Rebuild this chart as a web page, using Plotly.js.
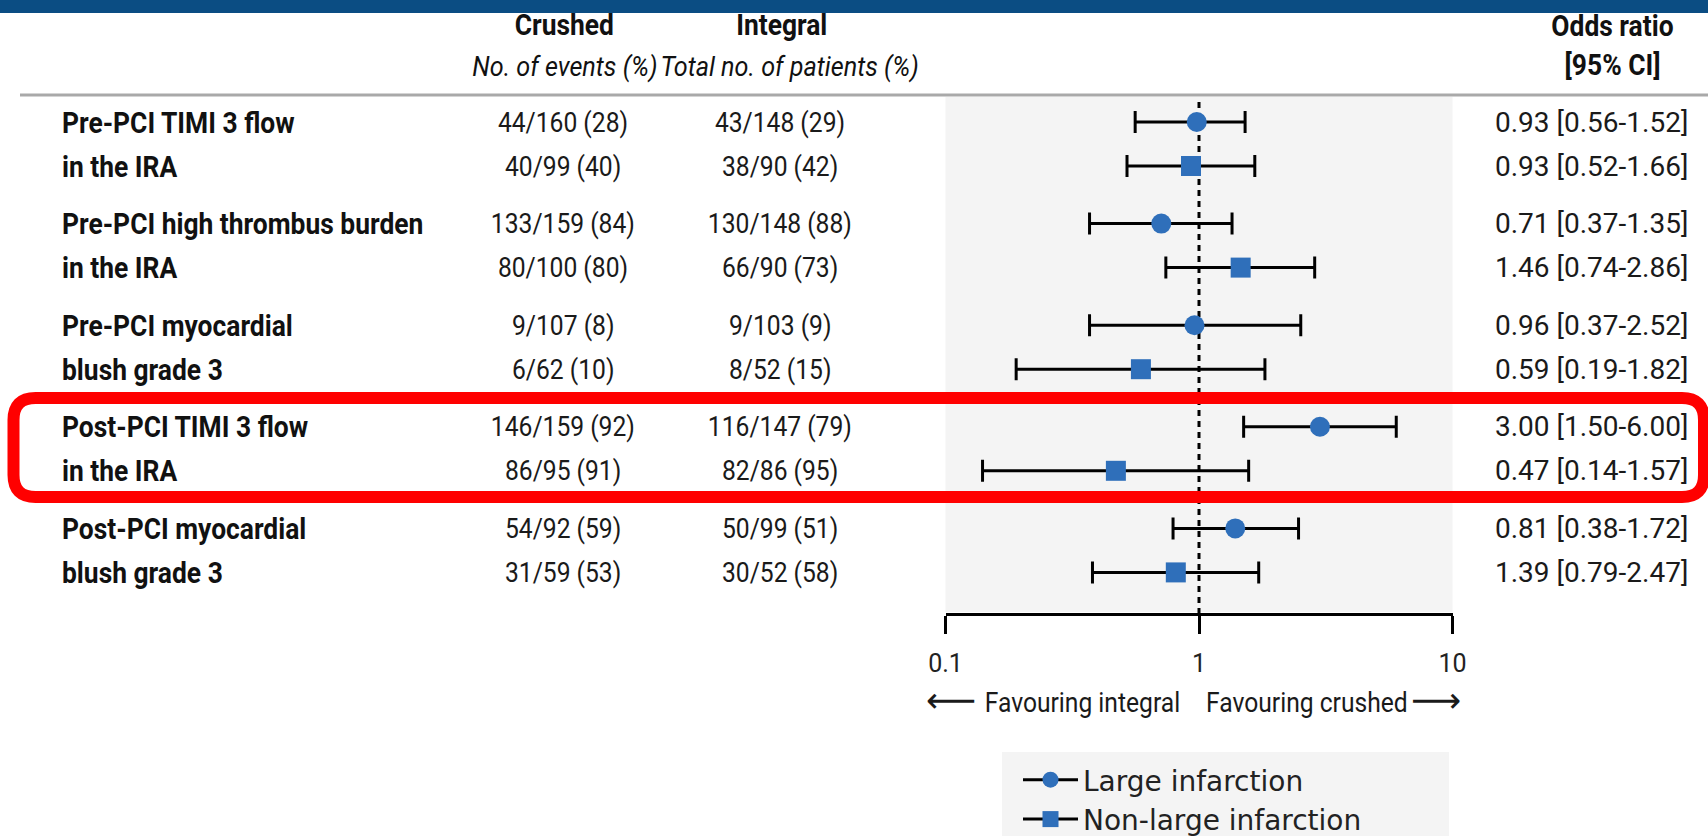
<!DOCTYPE html>
<html>
<head>
<meta charset="utf-8">
<script src="https://cdn.plot.ly/plotly-3.0.1.min.js"></script>
<style>
  html, body { margin: 0; padding: 0; background: #ffffff; }
  #chart { width: 1708px; height: 836px; }
</style>
</head>
<body>
<div id="chart"></div>
<script>
// ---------------- data ----------------
const rowLabels = [
  "Pre-PCI TIMI 3 flow", "in the IRA",
  "Pre-PCI high thrombus burden", "in the IRA",
  "Pre-PCI myocardial", "blush grade 3",
  "Post-PCI TIMI 3 flow", "in the IRA",
  "Post-PCI myocardial", "blush grade 3"
];
const crushedText = [
  "44/160 (28)", "40/99 (40)", "133/159 (84)", "80/100 (80)", "9/107 (8)",
  "6/62 (10)", "146/159 (92)", "86/95 (91)", "54/92 (59)", "31/59 (53)"
];
const integralText = [
  "43/148 (29)", "38/90 (42)", "130/148 (88)", "66/90 (73)", "9/103 (9)",
  "8/52 (15)", "116/147 (79)", "82/86 (95)", "50/99 (51)", "30/52 (58)"
];
const orText = [
  "0.93 [0.56-1.52]", "0.93 [0.52-1.66]", "0.71 [0.37-1.35]", "1.46 [0.74-2.86]",
  "0.96 [0.37-2.52]", "0.59 [0.19-1.82]", "3.00 [1.50-6.00]", "0.47 [0.14-1.57]",
  "0.81 [0.38-1.72]", "1.39 [0.79-2.47]"
];
// plotted markers (as drawn)
const largeRows = [0, 2, 4, 6, 8];
const largeOR = [0.98, 0.71, 0.96, 3.00, 1.39];
const largeLo = [0.56, 0.37, 0.37, 1.50, 0.79];
const largeHi = [1.52, 1.35, 2.52, 6.00, 2.47];
const nonLargeRows = [1, 3, 5, 7, 9];
const nonLargeOR = [0.93, 1.46, 0.59, 0.47, 0.81];
const nonLargeLo = [0.52, 0.74, 0.19, 0.14, 0.38];
const nonLargeHi = [1.66, 2.86, 1.82, 1.57, 1.72];
const tickVals = [0.1, 1, 10];
const tickText = ["0.1", "1", "10"];
const seriesNames = ["Large infarction", "Non-large infarction"];

// ---------------- layout helpers ----------------
const W = 1708, H = 836;
const ROW0 = 122, UNIT = 44, GROUP = 101.6 / 44;
const px = x => x / W;
const py = y => 1 - y / H;
const rowPos = i => Math.floor(i / 2) * GROUP + (i % 2);

const FONT = "Roboto, 'Liberation Sans', sans-serif";
const BLUE = "#2f6fba";

function mkTrace(name, rows, or, lo, hi, symbol) {
  const x = [], y = [], ep = [], em = [];
  or.forEach((v, k) => {
    x.push(v, null);
    y.push(rowPos(rows[k]), null);
    ep.push(hi[k] - v, 0);
    em.push(v - lo[k], 0);
  });
  return {
    type: "scatter", mode: "lines+markers", name: name, x: x, y: y,
    connectgaps: false, hoverinfo: "skip",
    line: { color: "#000000", width: 3 },
    marker: { symbol: symbol, size: 20, color: BLUE },
    error_x: { type: "data", symmetric: false, array: ep, arrayminus: em,
               color: "#000000", thickness: 3, width: 11 }
  };
}

const traces = [
  mkTrace(seriesNames[0], largeRows, largeOR, largeLo, largeHi, "circle"),
  mkTrace(seriesNames[1], nonLargeRows, nonLargeOR, nonLargeLo, nonLargeHi, "square")
];

const ann = [], annScale = [];
const labelF = { family: FONT, size: 30, color: "#111111", weight: 700 };
const valF = { family: FONT, size: 28, color: "#1a1a1a" };
const boldF = { family: FONT, size: 30, color: "#111111", weight: 700 };
const italF = { family: FONT, size: 28, color: "#111111", style: "italic" };
const favF = { family: FONT, size: 28, color: "#1a1a1a" };
const arrowF = { family: "'DejaVu Sans', sans-serif", size: 35, color: "#1a1a1a" };

function txt(x, y, text, anchor, font, scale) {
  ann.push({
    xref: "paper", yref: "y", x: px(x), y: y, text: text, showarrow: false,
    xanchor: anchor, yanchor: "middle", font: font
  });
  annScale.push(scale);
}
function htxt(x, y, text, anchor, font, scale) {
  ann.push({
    xref: "paper", yref: "paper", x: px(x), y: py(y), text: text, showarrow: false,
    xanchor: anchor, yanchor: "middle", font: font
  });
  annScale.push(scale);
}
rowLabels.forEach((t, i) => {
  txt(60, rowPos(i), t, "left", labelF, 0.88);
  txt(563, rowPos(i), crushedText[i], "center", valF, 0.88);
  txt(780, rowPos(i), integralText[i], "center", valF, 0.88);
  txt(1690, rowPos(i), orText[i], "right", valF, 1.0);
});
htxt(564, 25, "Crushed", "center", boldF, 0.88);
htxt(782, 25, "Integral", "center", boldF, 0.88);
htxt(565, 66, "No. of events (%)", "center", italF, 0.90);
htxt(789, 66, "Total no. of patients (%)", "center", italF, 0.90);
htxt(1612, 26, "Odds ratio", "center", boldF, 0.88);
htxt(1612, 65, "[95% CI]", "center", boldF, 0.88);
htxt(1182, 702, "Favouring integral", "right", favF, 0.88);
htxt(1204, 702, "Favouring crushed", "left", favF, 0.88);
htxt(951, 700, "⟵", "center", arrowF, 1.0);
htxt(1436, 700, "⟶", "center", arrowF, 1.0);

// red rounded highlight box (pixel path from top-left)
const L = 13.5, R = 1704, T = 398, B = 497, r = 22;
const redPath = `M ${L + r},${-T} L ${R - r},${-T} Q ${R},${-T} ${R},${-T - r} L ${R},${-B + r} Q ${R},${-B} ${R - r},${-B} L ${L + r},${-B} Q ${L},${-B} ${L},${-B + r} L ${L},${-T - r} Q ${L},${-T} ${L + r},${-T} Z`;

const shapes = [
  { type: "rect", xref: "paper", yref: "paper", x0: 0, x1: 1, y0: py(13), y1: 1,
    fillcolor: "#0b4d83", line: { width: 0 }, layer: "below" },
  { type: "line", xref: "paper", yref: "paper", x0: px(20), x1: 1, y0: py(95), y1: py(95),
    line: { color: "#a9a9a9", width: 3 }, layer: "below" },
  { type: "rect", xref: "x domain", yref: "paper", x0: 0, x1: 1, y0: py(612), y1: py(97),
    fillcolor: "#f4f4f4", line: { width: 0 }, layer: "below" },
  { type: "line", xref: "x", yref: "paper", x0: 1, x1: 1, y0: py(614), y1: py(97),
    line: { color: "#000000", width: 3, dash: "6px,5px" }, layer: "below" },
  // legend panel background
  { type: "rect", xref: "paper", yref: "paper", x0: px(1002), x1: px(1449), y0: 0, y1: py(752),
    fillcolor: "#f4f4f4", line: { width: 0 }, layer: "below" },
  { type: "path", xref: "paper", yref: "paper", xsizemode: "pixel", ysizemode: "pixel",
    xanchor: 0, yanchor: 1, path: redPath, line: { color: "#ff0000", width: 12 },
    fillcolor: "rgba(0,0,0,0)", layer: "above" }
];

const layout = {
  width: W, height: H,
  margin: { l: 0, r: 0, t: 0, b: 0, pad: 0, autoexpand: false },
  paper_bgcolor: "#ffffff", plot_bgcolor: "rgba(0,0,0,0)",
  showlegend: true,
  xaxis: {
    type: "log", range: [-1, 1], domain: [px(945.5), px(1452.5)],
    anchor: "free", position: py(614), automargin: false,
    tickvals: tickVals, ticktext: tickText,
    ticks: "outside", ticklen: 18, tickwidth: 3, tickcolor: "#000000",
    showline: true, linewidth: 3, linecolor: "#000000",
    showgrid: false, zeroline: false, ticklabelstandoff: 8,
    tickfont: { family: FONT, size: 25, color: "#222222" }, fixedrange: true
  },
  yaxis: {
    range: [(H - ROW0) / UNIT, -ROW0 / UNIT], visible: false,
    showgrid: false, zeroline: false, fixedrange: true, automargin: false
  },
  legend: {
    x: px(1018), y: -8 / H, xanchor: "left", yanchor: "bottom",
    bgcolor: "rgba(0,0,0,0)", borderwidth: 0, itemsizing: "trace", itemwidth: 55,
    font: { family: "'DejaVu Sans', 'Open Sans', sans-serif", size: 28, color: "#222222" },
    tracegroupgap: 0
  },
  annotations: ann,
  shapes: shapes
};

const gd = document.getElementById("chart");
Plotly.newPlot(gd, traces, layout, { staticPlot: true, displayModeBar: false }).then(() => {
  // condense text horizontally (the original uses a condensed typeface)
  ann.forEach((a, i) => {
    const s = annScale[i];
    if (!s || s === 1) return;
    const t = gd.querySelector(`.annotation[data-index="${i}"] text.annotation-text`);
    if (!t) return;
    const bb = t.getBBox();
    const ox = a.xanchor === "left" ? bb.x : a.xanchor === "right" ? bb.x + bb.width : bb.x + bb.width / 2;
    const prev = t.getAttribute("transform") || "";
    t.setAttribute("transform", `${prev} translate(${ox},0) scale(${s},1) translate(${-ox},0)`);
  });
});
</script>
</body>
</html>
